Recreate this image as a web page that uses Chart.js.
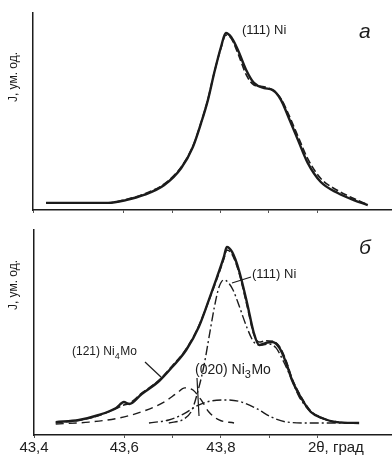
<!DOCTYPE html>
<html>
<head>
<meta charset="utf-8">
<script src="https://cdn.jsdelivr.net/npm/chart.js@4.4.1/dist/chart.umd.min.js"></script>
<style>
  html, body { margin: 0; padding: 0; background: #fff; }
  #wrap { position: relative; width: 392px; height: 458px; }
  #panel-a { position: absolute; left: 0; top: 0; }
  #panel-b { position: absolute; left: 0; top: 222px; }
</style>
</head>
<body>
<div id="wrap">
  <canvas id="panel-a" width="392" height="222"></canvas>
  <canvas id="panel-b" width="392" height="236"></canvas>
</div>
<script>
// x axis: 2θ, degrees
const xMin = 43.413;
const xMax = 44.154;
const tickValues = [43.4, 43.6, 43.8];
const tickLabels = ['43,4', '43,6', '43,8'];
const axisTitle = '2θ, град';
const yTitle = 'J, ум. од.';

// panel a: experimental profile and fit
const topTheta = [43.440, 43.568, 43.605, 43.642, 43.684, 43.719, 43.743, 43.760, 43.774, 43.787, 43.801, 43.811, 43.822, 43.836, 43.853, 43.869, 43.890, 43.908, 43.925, 43.941, 43.960, 43.980, 44.007, 44.042, 44.075, 44.104];
const topExp   = [4.0, 4.0, 5.6, 8.5, 14.1, 23.7, 35.6, 49.2, 62.1, 77.4, 92.1, 100.0, 97.7, 90.4, 79.1, 71.8, 68.9, 67.8, 62.1, 52.0, 39.5, 26.6, 15.8, 9.6, 5.6, 2.8];
const topFit   = [4.0, 4.0, 5.9, 9.0, 14.8, 24.3, 36.0, 49.5, 62.5, 77.6, 91.5, 98.8, 97.0, 88.5, 76.5, 70.6, 69.6, 67.5, 62.8, 53.8, 41.6, 29.0, 17.8, 11.0, 6.5, 3.0];

// panel b: experimental profile, fit and components
const botTheta = [43.458, 43.506, 43.547, 43.583, 43.599, 43.610, 43.636, 43.672, 43.699, 43.728, 43.754, 43.775, 43.792, 43.806, 43.812, 43.823, 43.837, 43.854, 43.868, 43.879, 43.893, 43.906, 43.921, 43.935, 43.947, 43.966, 43.986, 44.009, 44.038, 44.086];
const botExp   = [7.3, 8.5, 11.3, 15.3, 18.6, 17.5, 23.2, 30.5, 38.4, 48.0, 61.0, 76.3, 89.3, 100.6, 106.2, 103.4, 93.2, 74.6, 57.6, 50.8, 52.0, 52.5, 49.2, 40.7, 31.1, 20.9, 13.0, 9.6, 7.3, 6.8];
const botFit   = [7.0, 8.3, 11.0, 15.0, 17.0, 17.8, 23.6, 31.0, 39.0, 48.6, 61.5, 76.0, 88.5, 99.5, 104.5, 102.0, 92.0, 73.0, 57.0, 52.5, 53.2, 53.0, 50.0, 41.8, 32.0, 21.5, 13.5, 9.8, 7.3, 6.8];

const niTheta = [43.692, 43.723, 43.740, 43.754, 43.765, 43.775, 43.786, 43.796, 43.806, 43.814, 43.825, 43.837, 43.854, 43.868, 43.883, 43.899, 43.914, 43.930, 43.945, 43.961, 43.982, 44.007, 44.044];
const niVals  = [6.8, 9.0, 14.1, 26.6, 39.5, 54.8, 71.8, 83.6, 87.6, 86.4, 81.9, 73.4, 60.5, 52.5, 50.8, 51.4, 49.2, 41.2, 32.2, 22.0, 14.1, 9.6, 7.3];

const ni4Theta = [43.458, 43.527, 43.589, 43.641, 43.682, 43.709, 43.725, 43.742, 43.759, 43.775, 43.796, 43.827];
const ni4Vals  = [6.2, 7.3, 9.6, 13.6, 18.6, 23.7, 26.6, 25.4, 19.8, 13.0, 8.5, 6.8];

const ni3Theta = [43.651, 43.692, 43.723, 43.750, 43.779, 43.812, 43.843, 43.875, 43.904, 43.937, 43.982, 44.086];
const ni3Vals  = [6.8, 8.5, 11.9, 16.4, 19.2, 19.8, 18.6, 14.7, 10.2, 7.3, 6.8, 6.8];

const ink = '#1c1c1c';
const pairs = (xs, ys) => xs.map((x, i) => ({ x: x, y: ys[i] }));

function line(label, xs, ys, width, dash) {
  return {
    label: label,
    data: pairs(xs, ys),
    borderColor: ink,
    borderWidth: width,
    borderDash: dash,
    pointRadius: 0,
    fill: false,
    cubicInterpolationMode: 'monotone'
  };
}

// text with subscripts: parts = [[text, isSub], ...]
function drawFormula(ctx, x, y, size, parts) {
  let cx = x;
  parts.forEach(p => {
    const fs = p[1] ? Math.round(size * 0.78) : size;
    ctx.font = fs + 'px "Liberation Sans"';
    ctx.fillText(p[0], cx, p[1] ? y + size * 0.35 : y);
    cx += ctx.measureText(p[0]).width + (p[1] ? 0.5 : 0);
  });
}

function leader(ctx, x1, y1, x2, y2) {
  ctx.beginPath();
  ctx.moveTo(x1, y1);
  ctx.lineTo(x2, y2);
  ctx.lineWidth = 1.2;
  ctx.strokeStyle = ink;
  ctx.stroke();
}

function makePanel(id, datasets, yMax, pad, showTicks, notes) {
  new Chart(document.getElementById(id), {
    type: 'line',
    data: { datasets: datasets },
    options: {
      responsive: false,
      animation: false,
      layout: { padding: pad },
      scales: {
        x: {
          type: 'linear',
          min: xMin,
          max: xMax,
          afterFit: s => { s.height = 0; },
          ticks: { display: false, stepSize: 0.1 },
          border: { display: true, color: ink, width: 1.5 },
          grid: { drawOnChartArea: false, drawTicks: true, tickLength: 3, color: '#555', lineWidth: 1 }
        },
        y: {
          min: 0,
          max: yMax,
          afterFit: s => { s.width = 0; },
          ticks: { display: false },
          border: { display: true, color: ink, width: 1.5 },
          grid: { display: false }
        }
      },
      plugins: { legend: { display: false }, tooltip: { enabled: false } }
    },
    plugins: [{
      afterDraw: function (chart) {
        const ctx = chart.ctx;
        const area = chart.chartArea;
        ctx.save();
        ctx.fillStyle = ink;
        ctx.textBaseline = 'middle';

        // y axis title
        ctx.save();
        ctx.translate(14, notes.yLabelY);
        ctx.rotate(-Math.PI / 2);
        ctx.font = '12px "Liberation Sans"';
        ctx.textAlign = 'center';
        ctx.fillText(yTitle, 0, 0);
        ctx.restore();

        // panel letter
        ctx.font = 'italic 21px "Liberation Sans"';
        ctx.textAlign = 'left';
        ctx.fillText(notes.letter, 359, notes.letterY);

        if (showTicks) {
          const xs = chart.scales.x;
          ctx.font = '15px "Liberation Sans"';
          ctx.textAlign = 'center';
          tickValues.forEach((v, i) => {
            const px = Math.max(xs.getPixelForValue(v), area.left);
            ctx.fillText(tickLabels[i], px, area.bottom + 13);
          });
          ctx.textAlign = 'left';
          ctx.fillText(axisTitle, xs.getPixelForValue(43.98), area.bottom + 13);
        }

        ctx.textAlign = 'left';
        notes.labels.forEach(l => drawFormula(ctx, l.x, l.y, l.size, l.parts));
        notes.leaders.forEach(l => leader(ctx, l[0], l[1], l[2], l[3]));
        ctx.restore();
      }
    }]
  });
}

makePanel('panel-a', [
  line('fit', topTheta, topFit, 1.6, [7, 3]),
  line('experiment', topTheta, topExp, 2.4, [])
], 111.3, { left: 33, top: 13, right: 0, bottom: 12 }, false, {
  letter: 'a',
  letterY: 32,
  yLabelY: 77,
  labels: [{ x: 242, y: 30, size: 13, parts: [['(111) Ni', false]] }],
  leaders: []
});

makePanel('panel-b', [
  line('Ni', niTheta, niVals, 1.4, [9, 3, 2, 3]),
  line('Ni4Mo', ni4Theta, ni4Vals, 1.4, [8, 5]),
  line('Ni3Mo', ni3Theta, ni3Vals, 1.4, [9, 3, 2, 3]),
  line('fit', botTheta, botFit, 1.6, [7, 3]),
  line('experiment', botTheta, botExp, 2.4, [])
], 115.8, { left: 34, top: 8, right: 0, bottom: 23 }, true, {
  letter: 'б',
  letterY: 26,
  yLabelY: 63,
  labels: [
    { x: 252, y: 52, size: 13, parts: [['(111) Ni', false]] },
    { x: 72, y: 130, size: 12, parts: [['(121) Ni', false], ['4', true], ['Mo', false]] },
    { x: 195, y: 148, size: 14, parts: [['(020) Ni', false], ['3', true], ['Mo', false]] }
  ],
  leaders: [
    [232, 61, 251, 55],
    [145, 140, 162, 156],
    [197, 156, 199, 194]
  ]
});
</script>
</body>
</html>
